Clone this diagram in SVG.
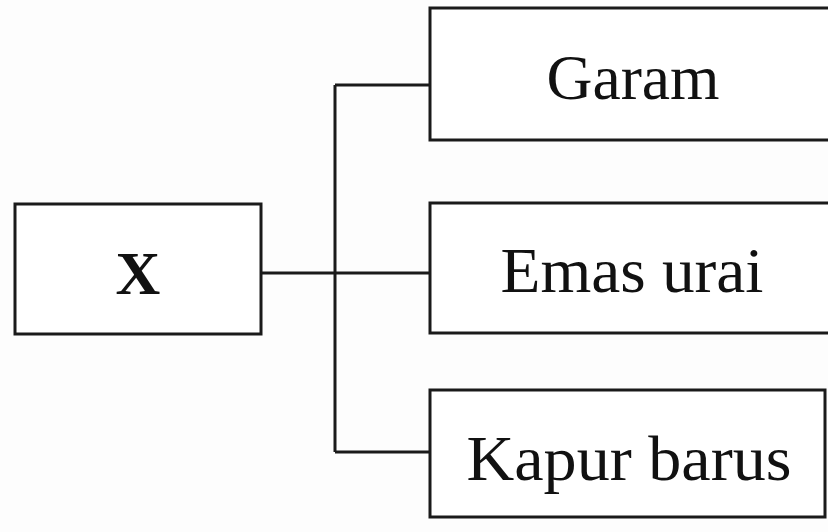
<svg xmlns="http://www.w3.org/2000/svg" width="828" height="532" viewBox="0 0 828 532">
<style>
.box{fill:#fff;stroke:#1a1a1a;stroke-width:3}
.lbl{font-family:"Liberation Serif","DejaVu Serif",serif;font-size:63px;fill:#111;text-anchor:middle}
.conn{fill:none;stroke:#1a1a1a;stroke-width:3}
</style>
<rect width="828" height="532" fill="#fdfdfd"/>
<g id="connectors">
<path class="conn" d="M261 273H430M335 85V452M335 85H430M335 452H430"/>
</g>
<g id="node-x">
<rect class="box" x="15" y="204" width="246" height="130"/>
<text class="lbl" x="138" y="294" style="font-weight:bold;font-size:62px">X</text>
</g>
<g id="node-garam">
<rect class="box" x="430" y="8" width="410" height="132"/>
<text class="lbl" x="633" y="99" textLength="173" lengthAdjust="spacingAndGlyphs">Garam</text>
</g>
<g id="node-emas">
<rect class="box" x="430" y="203" width="410" height="130"/>
<text class="lbl" x="632" y="292" textLength="263" lengthAdjust="spacingAndGlyphs">Emas urai</text>
</g>
<g id="node-kapur">
<rect class="box" x="430" y="390" width="395" height="127"/>
<text class="lbl" x="629" y="480" textLength="325" lengthAdjust="spacingAndGlyphs">Kapur barus</text>
</g>
</svg>
